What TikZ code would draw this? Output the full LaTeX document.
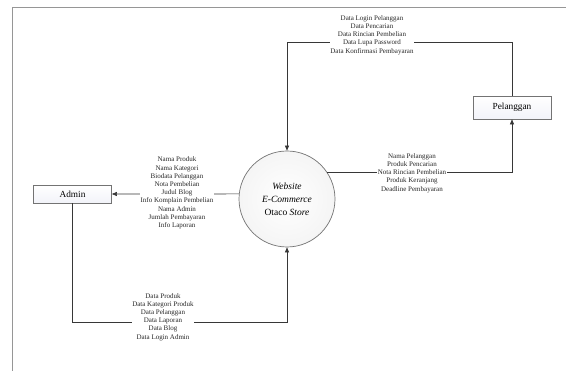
\documentclass[tikz,border=0pt]{standalone}
\usepackage{fontspec}
\setmainfont{Liberation Serif}
\usetikzlibrary{arrows.meta}
\definecolor{framegray}{RGB}{150,150,150}
\definecolor{edgegray}{RGB}{115,115,115}
\definecolor{linegray}{RGB}{55,55,55}
\definecolor{boxfill}{RGB}{242,243,249}
\tikzset{
  entity/.style={draw=edgegray, line width=0.7pt, top color=white, bottom color=boxfill,
    minimum width=78pt, font=\fontsize{9.3}{11}\selectfont, inner sep=0pt},
  process/.style={circle, draw=edgegray, line width=0.7pt, inner color=white,
    outer color=gray!8, minimum size=96pt, inner sep=0pt, align=center,
    font=\fontsize{9.5}{12.8}\selectfont},
  flow/.style={draw=linegray, line width=0.6pt,
    -{Triangle[length=5pt,width=4pt]}},
  flowlabel/.style={fill=white, inner sep=0.3pt, align=center,
    font=\fontsize{7}{8.2}\selectfont, text=black!85}
}
\begin{document}
\begin{tikzpicture}[x=1pt,y=-1pt]
  \useasboundingbox (0,0) rectangle (566,371);
  % page frame
  \draw[framegray, line width=1.3pt] (566,7.5) -- (12.5,7.5) -- (12.5,371);

  % entities and the central process
  \node[process] (web) at (287,199)
    {\textit{Website}\\ \textit{E-Commerce}\\ Otaco \textit{Store}};
  \node[entity, minimum height=18pt] (admin) at (72.5,194) {Admin};
  \node[entity, minimum height=23pt] (pel) at (512,107.5) {Pelanggan};

  % bend points of the routed flows
  \coordinate (topbend) at (287,42);
  \coordinate (botbend) at (287,322);

  % data flows
  \draw[flow] (pel.north) |- (topbend) -- (web.north);
  \draw[flow] (web.34.2) -| (pel.south);
  \draw[flow] (web.174) -- (admin.east);
  \draw[flow] (admin.south) |- (botbend) -- (web.south);

  % flow labels
  \node[flowlabel] (ltop) at (372,35)
    {Data Login Pelanggan\\ Data Pencarian\\ Data Rincian Pembelian\\
     Data Lupa Password\\ Data Konfirmasi Pembayaran};
  \node[flowlabel] (lright) at (412,173)
    {Nama Pelanggan\\ Produk Pencarian\\ Nota Rincian Pembelian\\
     Produk Keranjang\\ Deadline Pembayaran};
  \node[flowlabel] (lleft) at (177,193)
    {Nama Produk\\ Nama Kategori\\ Biodata Pelanggan\\ Nota Pembelian\\
     Judul Blog\\ Info Komplain Pembelian\\ Nama Admin\\
     Jumlah Pembayaran\\ Info Laporan};
  \node[flowlabel] (lbot) at (163,317)
    {Data Produk\\ Data Kategori Produk\\ Data Pelanggan\\ Data Laporan\\
     Data Blog\\ Data Login Admin};
\end{tikzpicture}
\end{document}
